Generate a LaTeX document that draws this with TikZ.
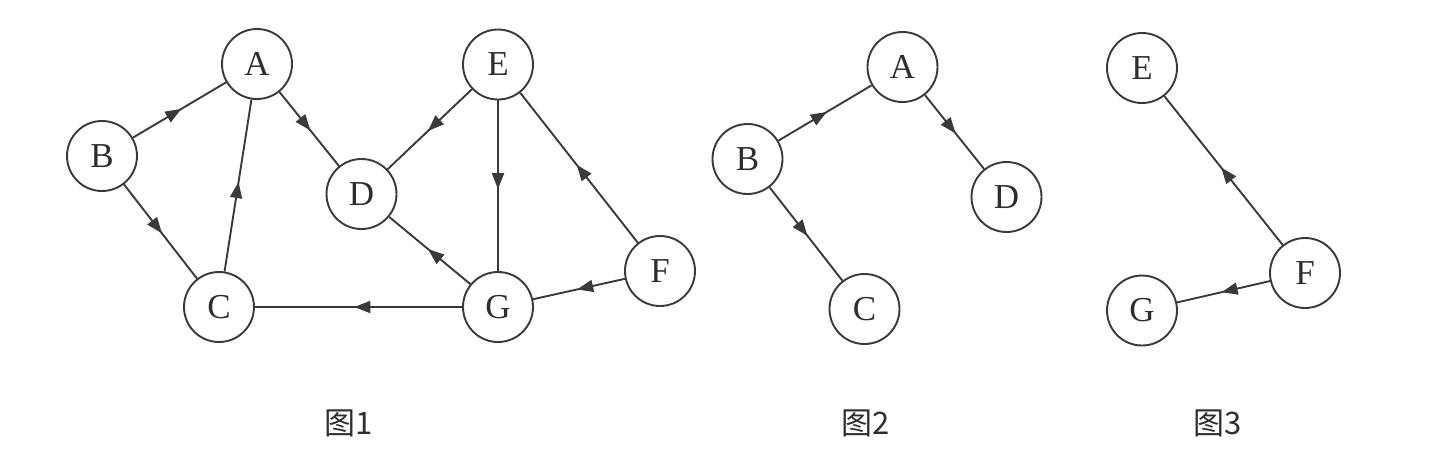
\documentclass[tikz,border=0pt]{standalone}
\usepackage{fontspec}
\setmainfont{Liberation Serif}
\newfontfamily\cjk{Noto Sans CJK SC}
\usetikzlibrary{arrows.meta,decorations.markings}
\definecolor{linec}{HTML}{3A3A3A}
\definecolor{textc}{HTML}{2E2E2E}
\begin{document}
\begin{tikzpicture}[x=0.5pt,y=-0.5pt,
  vert/.style={circle,draw=linec,line width=0.95pt,minimum size=35pt,inner sep=0pt,
    font=\fontsize{17.5}{19}\selectfont,text=textc},
  edge/.style={draw=linec,line width=0.95pt,postaction={decorate},
    decoration={markings,mark=at position 0.52 with {\arrow[linec]{Triangle[length=8pt,width=6pt]}}}},
  figlabel/.style={font=\cjk\fontsize{15.5}{17}\selectfont,text=textc}]
\useasboundingbox[fill=white] (0,0) rectangle (1451,467);
% Figure 1
\node[vert] (A1) at (257,64) {A};
\node[vert] (B1) at (102,156) {B};
\node[vert] (C1) at (219,307) {C};
\node[vert] (D1) at (361.5,194) {D};
\node[vert] (E1) at (498,64.5) {E};
\node[vert] (G1) at (498,307) {G};
\node[vert] (F1) at (660,271) {F};
\draw[edge] (B1) -- (A1);
\draw[edge] (A1) -- (D1);
\draw[edge] (B1) -- (C1);
\draw[edge] (C1) -- (A1);
\draw[edge] (E1) -- (D1);
\draw[edge] (E1) -- (G1);
\draw[edge] (F1) -- (E1);
\draw[edge] (G1) -- (D1);
\draw[edge] (F1) -- (G1);
\draw[edge] (G1) -- (C1);
% Figure 2
\node[vert] (A2) at (902.5,67) {A};
\node[vert] (B2) at (747.5,159) {B};
\node[vert] (C2) at (864.5,309) {C};
\node[vert] (D2) at (1006.5,197) {D};
\draw[edge] (B2) -- (A2);
\draw[edge] (A2) -- (D2);
\draw[edge] (B2) -- (C2);
% Figure 3
\node[vert] (E3) at (1142,68) {E};
\node[vert] (F3) at (1305,273) {F};
\node[vert] (G3) at (1142,310.5) {G};
\draw[edge] (F3) -- (E3);
\draw[edge] (F3) -- (G3);
% captions
\node[figlabel] (L1) at (348.5,423) {图1};
\node[figlabel] (L2) at (866,423) {图2};
\node[figlabel] (L3) at (1218,423) {图3};
\end{tikzpicture}
\end{document}
